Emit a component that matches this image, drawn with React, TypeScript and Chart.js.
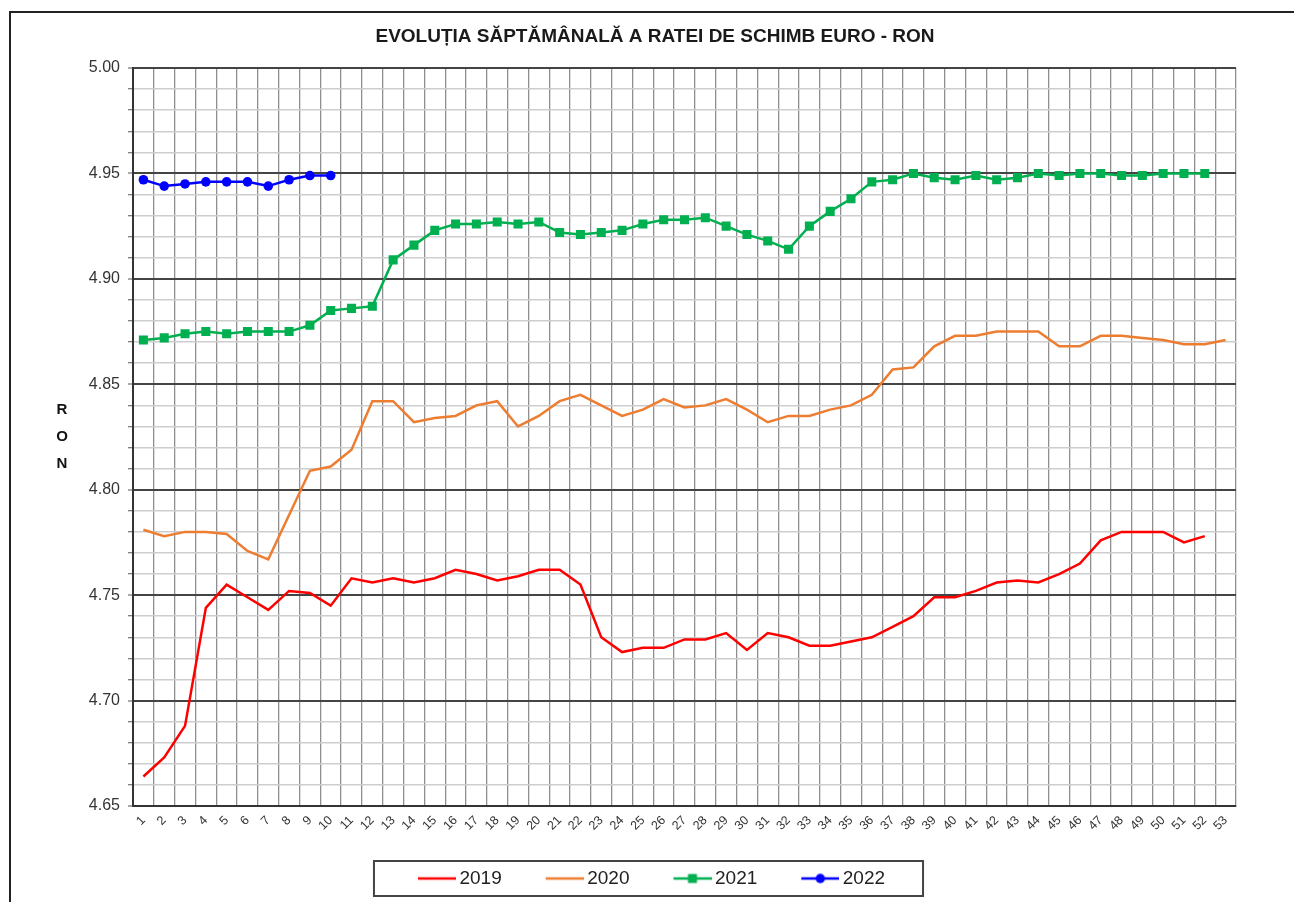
import React, { useEffect, useRef } from 'react';
import Chart from 'chart.js/auto';

const chartTitle = 'EVOLUȚIA SĂPTĂMÂNALĂ A RATEI DE SCHIMB EURO - RON';
const yAxisLetters = ['R', 'O', 'N'];

const weeks = [
  '1', '2', '3', '4', '5', '6', '7', '8', '9', '10',
  '11', '12', '13', '14', '15', '16', '17', '18', '19', '20',
  '21', '22', '23', '24', '25', '26', '27', '28', '29', '30',
  '31', '32', '33', '34', '35', '36', '37', '38', '39', '40',
  '41', '42', '43', '44', '45', '46', '47', '48', '49', '50',
  '51', '52', '53',
];

const rate2019 = [
  4.664, 4.673, 4.688, 4.744, 4.755, 4.749, 4.743, 4.752, 4.751, 4.745,
  4.758, 4.756, 4.758, 4.756, 4.758, 4.762, 4.760, 4.757, 4.759, 4.762,
  4.762, 4.755, 4.730, 4.723, 4.725, 4.725, 4.729, 4.729, 4.732, 4.724,
  4.732, 4.730, 4.726, 4.726, 4.728, 4.730, 4.735, 4.740, 4.749, 4.749,
  4.752, 4.756, 4.757, 4.756, 4.760, 4.765, 4.776, 4.780, 4.780, 4.780,
  4.775, 4.778,
];

const rate2020 = [
  4.781, 4.778, 4.780, 4.780, 4.779, 4.771, 4.767, 4.788, 4.809, 4.811,
  4.819, 4.842, 4.842, 4.832, 4.834, 4.835, 4.840, 4.842, 4.830, 4.835,
  4.842, 4.845, 4.840, 4.835, 4.838, 4.843, 4.839, 4.840, 4.843, 4.838,
  4.832, 4.835, 4.835, 4.838, 4.840, 4.845, 4.857, 4.858, 4.868, 4.873,
  4.873, 4.875, 4.875, 4.875, 4.868, 4.868, 4.873, 4.873, 4.872, 4.871,
  4.869, 4.869, 4.871,
];

const rate2021 = [
  4.871, 4.872, 4.874, 4.875, 4.874, 4.875, 4.875, 4.875, 4.878, 4.885,
  4.886, 4.887, 4.909, 4.916, 4.923, 4.926, 4.926, 4.927, 4.926, 4.927,
  4.922, 4.921, 4.922, 4.923, 4.926, 4.928, 4.928, 4.929, 4.925, 4.921,
  4.918, 4.914, 4.925, 4.932, 4.938, 4.946, 4.947, 4.950, 4.948, 4.947,
  4.949, 4.947, 4.948, 4.950, 4.949, 4.950, 4.950, 4.949, 4.949, 4.950,
  4.950, 4.950,
];

const rate2022 = [4.947, 4.944, 4.945, 4.946, 4.946, 4.946, 4.944, 4.947, 4.949, 4.949];

const seriesNames = ['2019', '2020', '2021', '2022'];
const seriesColors = ['#FF0000', '#ED7D31', '#00B050', '#0000FF'];
const seriesMarkers = ['none', 'none', 'rect', 'circle'];

const yMin = 4.65;
const yMax = 5.0;
const yStep = 0.01;

const FONT = "'Liberation Sans', Arial, Helvetica, sans-serif";

// legend icon: canvas wider than the legend box so the line sits close to the text
const ICON_BOX = 66;
const ICON_W = 78;
const ICON_LINE = 38;

function makeIcon(color: string, marker: string) {
  const c = document.createElement('canvas');
  c.width = ICON_W;
  c.height = 14;
  const g = c.getContext('2d') as CanvasRenderingContext2D;
  const x0 = ICON_W - ICON_LINE;
  const cx = x0 + ICON_LINE / 2;
  g.strokeStyle = color;
  g.lineWidth = 2.5;
  g.beginPath();
  g.moveTo(x0, 7);
  g.lineTo(ICON_W, 7);
  g.stroke();
  g.fillStyle = color;
  if (marker === 'rect') g.fillRect(cx - 4.5, 2.5, 9, 9);
  if (marker === 'circle') {
    g.beginPath();
    g.arc(cx, 7, 4.7, 0, Math.PI * 2);
    g.fill();
  }
  return c;
}

const isMajor = (v: number) => Math.round(v * 100) % 5 === 0;

export default function App() {
  const ref = useRef<HTMLCanvasElement | null>(null);

  useEffect(() => {
    if (!ref.current) return;
    const icons = seriesColors.map((c, i) => makeIcon(c, seriesMarkers[i]));

    const yLetters = {
      id: 'yLetters',
      afterLayout(chart: any) {
        // shift the title block slightly right, as in the reference
        if (chart.titleBlock) chart.titleBlock.left += 41;
      },
      afterDraw(chart: any) {
        const ctx = chart.ctx;
        const ca = chart.chartArea;
        const cy = (ca.top + ca.bottom) / 2;
        ctx.save();
        ctx.font = `bold 15px ${FONT}`;
        ctx.fillStyle = '#111';
        ctx.textAlign = 'center';
        ctx.textBaseline = 'middle';
        yAxisLetters.forEach((l, i) => ctx.fillText(l, 62, cy + (i - 1) * 27));
        ctx.restore();
      },
    };

    const legendFrame = {
      id: 'legendFrame',
      afterDraw(chart: any) {
        const hb = chart.legend && chart.legend.legendHitBoxes;
        if (!hb || !hb.length) return;
        const first = hb[0];
        const last = hb[hb.length - 1];
        const cy = first.top + first.height / 2;
        const left = first.left - 10;
        const right = last.left + last.width + 38;
        const ctx = chart.ctx;
        ctx.save();
        ctx.strokeStyle = '#444';
        ctx.lineWidth = 2;
        ctx.strokeRect(left, cy - 17.5, right - left, 35);
        ctx.restore();
      },
    };

    const datasets = [rate2019, rate2020, rate2021, rate2022].map((data, i) => ({
      label: seriesNames[i],
      data,
      borderColor: seriesColors[i],
      backgroundColor: seriesColors[i],
      borderWidth: 2.5,
      tension: 0,
      fill: false,
      pointStyle: seriesMarkers[i] === 'rect' ? 'rect' : 'circle',
      pointRadius: seriesMarkers[i] === 'rect' ? 6.4 : seriesMarkers[i] === 'circle' ? 4.8 : 0,
      pointHoverRadius: seriesMarkers[i] === 'none' ? 0 : 6,
      pointBorderWidth: 0,
    }));

    const chart = new Chart(ref.current, {
      type: 'line',
      data: { labels: weeks, datasets },
      plugins: [yLetters, legendFrame],
      options: {
        responsive: false,
        animation: false,
        layout: { padding: { left: 0, right: 25, top: 0, bottom: 4 } },
        plugins: {
          title: {
            display: true,
            text: chartTitle,
            color: '#1a1a1a',
            font: { family: FONT, size: 19, weight: 'bold' },
            padding: { top: 25.5, bottom: 19.7 },
          },
          legend: {
            position: 'bottom',
            labels: {
              usePointStyle: true,
              pointStyleWidth: ICON_BOX,
              padding: 10,
              color: '#222',
              font: { family: FONT, size: 19 },
              generateLabels: (c: any) => {
                const base = (Chart as any).defaults.plugins.legend.labels.generateLabels(c);
                return base.map((it: any, i: number) => ({ ...it, pointStyle: icons[i], lineWidth: 0 }));
              },
            },
          },
          tooltip: { enabled: false },
        },
        scales: {
          x: {
            type: 'category',
            offset: true,
            afterFit: (s: any) => { s.height = 53; },
            grid: {
              offset: true,
              drawTicks: false,
              color: (ctx: any) => (ctx.index === weeks.length ? '#555' : '#8f8f8f'),
              lineWidth: (ctx: any) => (ctx.index === weeks.length ? 2 : 1.3),
            },
            border: { display: true, color: '#333', width: 2 },
            ticks: {
              autoSkip: false,
              minRotation: 45,
              maxRotation: 45,
              padding: 7,
              color: '#333',
              font: { family: FONT, size: 12.5 },
            },
          },
          y: {
            min: yMin,
            max: yMax,
            afterFit: (s: any) => { s.width = 133; },
            grid: {
              color: (ctx: any) => (ctx.tick && isMajor(ctx.tick.value) ? '#444' : '#cdcdcd'),
              lineWidth: (ctx: any) => (ctx.tick && isMajor(ctx.tick.value) ? 2 : 1.5),
              tickLength: 5,
              tickColor: '#555',
              tickWidth: 1,
            },
            border: { display: true, color: '#333', width: 2 },
            ticks: {
              stepSize: yStep,
              autoSkip: false,
              padding: 8,
              color: '#333',
              font: { family: FONT, size: 16 },
              callback: (v: any) => (isMajor(Number(v)) ? Number(v).toFixed(2) : ''),
            },
          },
          yRight: {
            position: 'right',
            display: true,
            afterFit: (s: any) => { s.width = 33; },
            grid: { display: false, drawTicks: false },
            border: { display: false },
            ticks: { display: false },
          },
        },
      } as any,
    });
    return () => chart.destroy();
  }, []);

  return (
    <div style={{ position: 'absolute', left: 0, top: 0, width: 1294, height: 902, overflow: 'hidden', background: '#fff' }}>
      <canvas ref={ref} width={1294} height={902} style={{ position: 'absolute', left: 0, top: 0, width: 1294, height: 902 }} />
      <div style={{ position: 'absolute', left: 9, top: 11, width: 1400, height: 1000, border: '2px solid #222', pointerEvents: 'none' }} />
    </div>
  );
}
